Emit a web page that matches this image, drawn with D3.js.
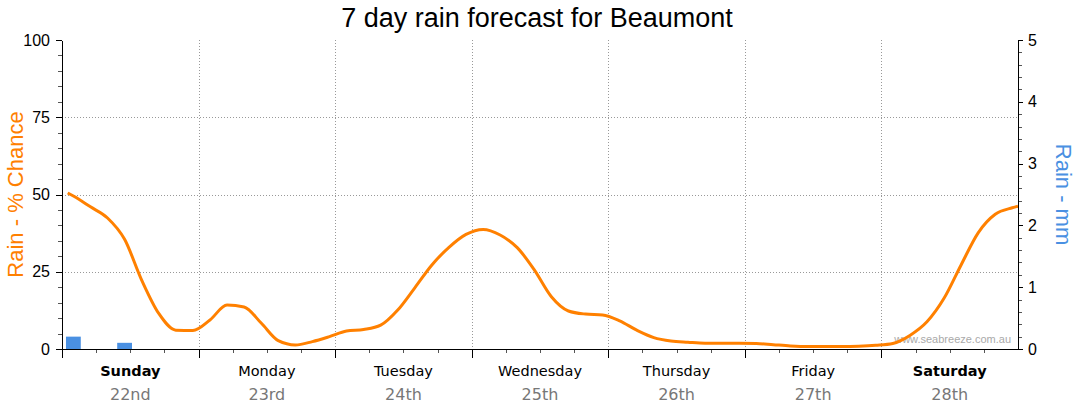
<!DOCTYPE html>
<meta charset="utf-8">
<style>
body { margin: 0; background: #fff; }
.grid line { stroke: #999; stroke-dasharray: 1,2; shape-rendering: crispEdges; }
.axis path, .axis line { stroke: #000; shape-rendering: crispEdges; }
.minor line { stroke: #555; }
.axis text { font-family: "Liberation Sans", Arial, sans-serif; font-size: 16px; fill: #000; }
</style>
<body>
<script src="https://cdn.jsdelivr.net/npm/d3@7"></script>
<script>

// hours from start of Sunday, and % chance of rain
var hours = [1, 2, 5, 8, 11, 14, 17, 20, 23, 26, 29, 32, 35, 38, 41, 44, 47, 50, 53, 56,
             59, 62, 65, 68, 71, 74, 77, 80, 83, 86, 89, 92, 95, 98, 101, 104, 107, 110,
             113, 116, 119, 122, 125, 128, 131, 134, 137, 140, 143, 146, 149, 152, 155,
             158, 161, 164, 167, 168];
var chance = [50.5, 49.5, 46, 42.4, 35.5, 22.3, 11.5, 6.1, 6.0, 9.4, 14.2, 13.6, 8.4, 2.7,
              1.3, 2.4, 4.0, 5.8, 6.3, 7.7, 12.6, 19.8, 27.2, 32.9, 37.1, 38.7, 36.9, 32.8,
              25.6, 16.9, 12.3, 11.3, 11.0, 9.1, 6.1, 3.7, 2.6, 2.2, 1.9, 1.9, 1.9, 1.8,
              1.4, 1.0, 0.8, 0.8, 0.8, 0.9, 1.2, 1.8, 4.4, 8.8, 16.4, 27.2, 37.6, 43.6,
              45.7, 46.2];

// rain amount bars (mm)
var barHours = [2, 11];
var barMm = [0.2, 0.1];

var days = ["Sunday", "Monday", "Tuesday", "Wednesday", "Thursday", "Friday", "Saturday"];
var dates = ["22nd", "23rd", "24th", "25th", "26th", "27th", "28th"];
var boldDays = ["Sunday", "Saturday"];

var chanceTicks = [0, 25, 50, 75, 100];
var mmTicks = [0, 1, 2, 3, 4, 5];

var margin = {top: 40, right: 62, bottom: 65, left: 62},
    width = 1080 - margin.left - margin.right,
    height = 414 - margin.top - margin.bottom;

var x = d3.scaleLinear().domain([0, 168]).range([0, width]);
var y = d3.scaleLinear().domain([0, 100]).range([height, 0]);
var y2 = d3.scaleLinear().domain([0, 5]).range([height, 0]);

var svg = d3.select("body").append("svg")
    .attr("width", 1080)
    .attr("height", 414);

svg.append("text")
    .attr("x", 537)
    .attr("y", 27)
    .attr("text-anchor", "middle")
    .style("font-family", "'Liberation Sans', Arial, sans-serif")
    .style("font-size", "27px")
    .text("7 day rain forecast for Beaumont");

var g = svg.append("g")
    .attr("transform", "translate(" + margin.left + "," + margin.top + ")");

// grid
g.append("g").attr("class", "grid")
  .selectAll("line").data([25, 50, 75]).enter().append("line")
    .attr("x1", 0).attr("x2", width)
    .attr("y1", function(d) { return Math.round(y(d)) + 0.5; })
    .attr("y2", function(d) { return Math.round(y(d)) + 0.5; });

g.append("g").attr("class", "grid")
  .selectAll("line").data([24, 48, 72, 96, 120, 144]).enter().append("line")
    .attr("y1", 0).attr("y2", height)
    .attr("x1", function(d) { return Math.round(x(d)) + 0.5; })
    .attr("x2", function(d) { return Math.round(x(d)) + 0.5; });

// watermark
g.append("text")
    .attr("x", width - 7)
    .attr("y", height - 6)
    .attr("text-anchor", "end")
    .style("font-family", "'Liberation Sans', Arial, sans-serif")
    .style("font-size", "11px")
    .style("fill", "#aaa")
    .text("www.seabreeze.com.au");

// bars
var barW = x(2.6) - x(0);
g.selectAll(".bar")
    .data(barHours)
  .enter().append("rect")
    .attr("class", "bar")
    .attr("x", function(d) { return x(d) - barW / 2; })
    .attr("width", barW)
    .attr("y", function(d, i) { return y2(barMm[i]); })
    .attr("height", function(d, i) { return height - y2(barMm[i]); })
    .attr("fill", "#4a90e2");

// chance line
var line = d3.line()
    .x(function(d, i) { return x(hours[i]); })
    .y(function(d) { return y(d); })
    .curve(d3.curveMonotoneX);

g.append("path")
    .datum(chance)
    .attr("d", line)
    .attr("fill", "none")
    .attr("stroke", "#ff8000")
    .attr("stroke-width", 3)
    .attr("stroke-linejoin", "round");

// left axis
g.append("g").attr("class", "axis minor")
    .call(d3.axisLeft(y).tickValues(d3.range(0, 101, 5)).tickSize(4).tickFormat("").tickSizeOuter(0));
g.append("g").attr("class", "axis")
    .call(d3.axisLeft(y).tickValues(chanceTicks).tickSize(6).tickSizeOuter(0).tickPadding(6));

// right axis
g.append("g").attr("class", "axis minor")
    .attr("transform", "translate(" + width + ",0)")
    .call(d3.axisRight(y2).tickValues(d3.range(0, 5.01, 0.2)).tickSize(4).tickFormat("").tickSizeOuter(0));
g.append("g").attr("class", "axis")
    .attr("transform", "translate(" + width + ",0)")
    .call(d3.axisRight(y2).tickValues(mmTicks).tickSize(5).tickSizeOuter(0).tickPadding(5).tickFormat(d3.format("d")));

// bottom axis
g.append("g").attr("class", "axis minor")
    .attr("transform", "translate(0," + height + ")")
    .call(d3.axisBottom(x).tickValues(d3.range(0, 168, 6)).tickSize(4).tickFormat("").tickSizeOuter(0));
g.append("g").attr("class", "axis")
    .attr("transform", "translate(0," + height + ")")
    .call(d3.axisBottom(x).tickValues([0, 24, 48, 72, 96, 120, 144]).tickSize(9).tickFormat("").tickSizeOuter(0));

// day labels
var dayG = g.append("g").selectAll("g")
    .data(days)
  .enter().append("g")
    .attr("transform", function(d, i) { return "translate(" + x(i * 24 + 12) + "," + height + ")"; });

dayG.append("text")
    .attr("y", 27)
    .attr("text-anchor", "middle")
    .style("font-family", "'DejaVu Sans', Verdana, sans-serif")
    .style("font-size", "14.5px")
    .style("font-weight", function(d) { return boldDays.indexOf(d) >= 0 ? "bold" : "normal"; })
    .text(function(d) { return d; });

dayG.append("text")
    .attr("y", 51)
    .attr("text-anchor", "middle")
    .style("font-family", "'DejaVu Sans', Verdana, sans-serif")
    .style("font-size", "16px")
    .style("fill", "#777")
    .text(function(d, i) { return dates[i]; });

// axis titles
svg.append("text")
    .attr("transform", "translate(23," + (margin.top + height / 2) + ") rotate(-90)")
    .attr("text-anchor", "middle")
    .style("font-family", "'Liberation Sans', Arial, sans-serif")
    .style("font-size", "22px")
    .style("fill", "#ff8000")
    .text("Rain - % Chance");

svg.append("text")
    .attr("transform", "translate(1056," + (margin.top + height / 2) + ") rotate(90)")
    .attr("text-anchor", "middle")
    .style("font-family", "'Liberation Sans', Arial, sans-serif")
    .style("font-size", "22px")
    .style("fill", "#4a90e2")
    .text("Rain - mm");

</script>
</body>
